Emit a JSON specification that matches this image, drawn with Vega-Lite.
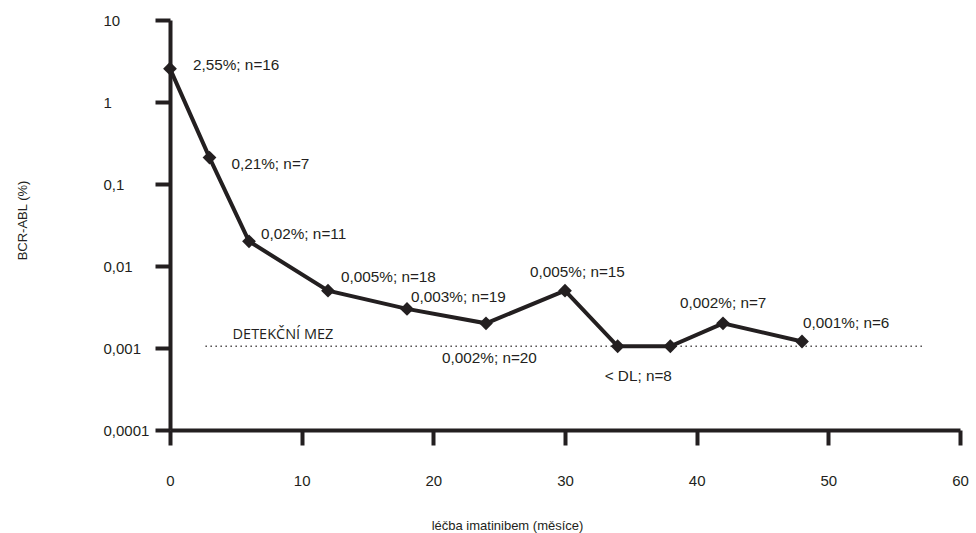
{
  "$schema": "https://vega.github.io/schema/vega-lite/v6.json",
  "width": 790,
  "height": 410,
  "autosize": {"type": "none"},
  "padding": {"left": 170, "top": 20, "right": 16, "bottom": 103},
  "background": "white",
  "config": {
    "view": {"stroke": null},
    "font": "Liberation Sans",
    "axis": {
      "grid": false,
      "domainColor": "#231f20",
      "domainWidth": 4,
      "tickColor": "#231f20",
      "tickWidth": 4,
      "tickSize": 15,
      "labelFlush": false,
      "labelFont": "Liberation Sans",
      "labelFontSize": 15,
      "labelColor": "#231f20",
      "titleFont": "Liberation Sans",
      "titleFontSize": 13,
      "titleFontWeight": "normal",
      "titleColor": "#231f20"
    }
  },
  "datasets": {
    "mereni": [
      {"mesic": 0, "bcr": 2.55, "popis": "2,55%; n=16"},
      {"mesic": 3, "bcr": 0.21, "popis": "0,21%; n=7"},
      {"mesic": 6, "bcr": 0.02, "popis": "0,02%; n=11"},
      {"mesic": 12, "bcr": 0.005, "popis": "0,005%; n=18"},
      {"mesic": 18, "bcr": 0.003, "popis": "0,003%; n=19"},
      {"mesic": 24, "bcr": 0.002, "popis": "0,002%; n=20"},
      {"mesic": 30, "bcr": 0.005, "popis": "0,005%; n=15"},
      {"mesic": 34, "bcr": 0.00105, "popis": "< DL; n=8"},
      {"mesic": 38, "bcr": 0.00105, "popis": ""},
      {"mesic": 42, "bcr": 0.002, "popis": "0,002%; n=7"},
      {"mesic": 48, "bcr": 0.0012, "popis": "0,001%; n=6"}
    ],
    "mez": [
      {"od": 2.7, "do": 57.1, "hodnota": 0.00105, "popis": "DETEKČNÍ MEZ"}
    ]
  },
  "data": {"name": "mereni"},
  "encoding": {
    "x": {
      "field": "mesic",
      "type": "quantitative",
      "scale": {"domain": [0, 60], "nice": false, "zero": false},
      "axis": {
        "values": [0, 10, 20, 30, 40, 50, 60],
        "title": "léčba imatinibem (měsíce)",
        "labelBaseline": "middle",
        "labelPadding": 35,
        "titleX": 337,
        "titleY": 95,
        "titleAlign": "center",
        "titleBaseline": "middle"
      }
    },
    "y": {
      "field": "bcr",
      "type": "quantitative",
      "scale": {"type": "log", "domain": [0.0001, 10], "nice": false},
      "axis": {
        "values": [0.0001, 0.001, 0.01, 0.1, 1, 10],
        "labelExpr": "replace(toString(datum.value), '.', ',')",
        "labelAlign": "left",
        "labelPadding": 52,
        "title": "BCR-ABL (%)",
        "titleX": -148,
        "titleY": 200,
        "titleAngle": -90,
        "titleAlign": "center",
        "titleBaseline": "middle"
      }
    }
  },
  "layer": [
    {
      "data": {"name": "mez"},
      "mark": {"type": "rule", "strokeDash": [1.2, 3.8], "strokeWidth": 1.3, "color": "#231f20"},
      "encoding": {
        "x": {"field": "od", "type": "quantitative"},
        "x2": {"field": "do"},
        "y": {"field": "hodnota", "type": "quantitative"}
      }
    },
    {
      "data": {"name": "mez"},
      "mark": {"type": "text", "font": "Open Sans", "fontSize": 14.5, "align": "left", "baseline": "middle", "dx": 27, "dy": -11, "color": "#231f20"},
      "encoding": {
        "x": {"field": "od", "type": "quantitative"},
        "y": {"field": "hodnota", "type": "quantitative"},
        "text": {"field": "popis"}
      }
    },
    {
      "mark": {"type": "line", "strokeWidth": 4, "color": "#231f20", "strokeJoin": "miter"},
      "encoding": {}
    },
    {
      "mark": {"type": "point", "shape": "diamond", "filled": true, "size": 190, "opacity": 1, "color": "#231f20"},
      "encoding": {}
    },
    {
      "transform": [{"filter": "datum.mesic == 0"}],
      "mark": {"type": "text", "fontSize": 15.3, "align": "left", "baseline": "middle", "dx": 23, "dy": -4, "color": "#231f20"},
      "encoding": {"text": {"field": "popis"}}
    },
    {
      "transform": [{"filter": "datum.mesic == 3"}],
      "mark": {"type": "text", "fontSize": 15.3, "align": "left", "baseline": "middle", "dx": 22, "dy": 6, "color": "#231f20"},
      "encoding": {"text": {"field": "popis"}}
    },
    {
      "transform": [{"filter": "datum.mesic == 6"}],
      "mark": {"type": "text", "fontSize": 15.3, "align": "left", "baseline": "middle", "dx": 12, "dy": -7, "color": "#231f20"},
      "encoding": {"text": {"field": "popis"}}
    },
    {
      "transform": [{"filter": "datum.mesic == 12"}],
      "mark": {"type": "text", "fontSize": 15.3, "align": "left", "baseline": "middle", "dx": 13, "dy": -14, "color": "#231f20"},
      "encoding": {"text": {"field": "popis"}}
    },
    {
      "transform": [{"filter": "datum.mesic == 18"}],
      "mark": {"type": "text", "fontSize": 15.3, "align": "left", "baseline": "middle", "dx": 4, "dy": -12, "color": "#231f20"},
      "encoding": {"text": {"field": "popis"}}
    },
    {
      "transform": [{"filter": "datum.mesic == 24"}],
      "mark": {"type": "text", "fontSize": 15.3, "align": "left", "baseline": "middle", "dx": -44, "dy": 35, "color": "#231f20"},
      "encoding": {"text": {"field": "popis"}}
    },
    {
      "transform": [{"filter": "datum.mesic == 30"}],
      "mark": {"type": "text", "fontSize": 15.3, "align": "left", "baseline": "middle", "dx": -35, "dy": -19, "color": "#231f20"},
      "encoding": {"text": {"field": "popis"}}
    },
    {
      "transform": [{"filter": "datum.mesic == 34"}],
      "mark": {"type": "text", "fontSize": 15.3, "align": "left", "baseline": "middle", "dx": -13, "dy": 30, "color": "#231f20"},
      "encoding": {"text": {"field": "popis"}}
    },
    {
      "transform": [{"filter": "datum.mesic == 42"}],
      "mark": {"type": "text", "fontSize": 15.3, "align": "left", "baseline": "middle", "dx": -43, "dy": -20, "color": "#231f20"},
      "encoding": {"text": {"field": "popis"}}
    },
    {
      "transform": [{"filter": "datum.mesic == 48"}],
      "mark": {"type": "text", "fontSize": 15.3, "align": "left", "baseline": "middle", "dx": 1, "dy": -19, "color": "#231f20"},
      "encoding": {"text": {"field": "popis"}}
    }
  ]
}
